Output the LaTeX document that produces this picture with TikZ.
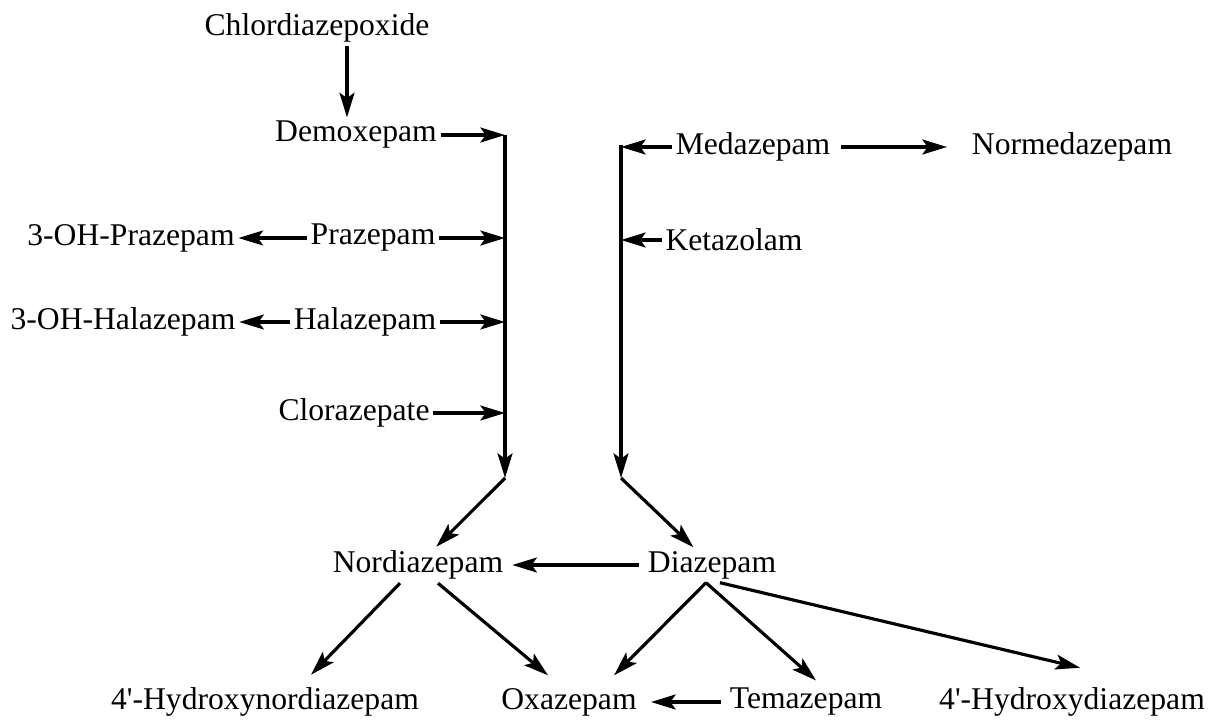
\documentclass[tikz,border=0pt]{standalone}
\usepackage{fontspec}
\setmainfont{Liberation Serif}
\usetikzlibrary{arrows.meta,calc}
\begin{document}
\begin{tikzpicture}[x=0.02cm,y=-0.02cm,
    drug/.style={inner sep=2pt, font=\fontsize{18}{20}\selectfont},
    arr/.style={line width=1.8pt, -{Stealth[length=14pt,width=8.5pt,inset=3pt]}}]
    \useasboundingbox (0,0) rectangle (1212,726);
    % Drugs, upper part
    \node[drug] (chlor)  at (317,28)  {Chlordiazepoxide};
    \node[drug] (demox)  at (356,135) {Demoxepam};
    \node[drug] (praz)   at (373,238) {Prazepam};
    \node[drug] (ohpraz) at (131,238) {3-OH-Prazepam};
    \node[drug] (hala)   at (365,322) {Halazepam};
    \node[drug] (ohhala) at (123,322) {3-OH-Halazepam};
    \node[drug] (cloraz) at (354,413) {Clorazepate};
    \node[drug] (medaz)  at (753,147) {Medazepam};
    \node[drug] (normed) at (1072,147) {Normedazepam};
    \node[drug] (ketaz)  at (734,240) {Ketazolam};
    % Drugs, lower part
    \node[drug] (nordiaz)  at (418,565) {Nordiazepam};
    \node[drug] (diaz)     at (712,565) {Diazepam};
    \node[drug] (hnordiaz) at (265,702) {4\textquotesingle-Hydroxynordiazepam};
    \node[drug] (oxaz)     at (569,702) {Oxazepam};
    \node[drug] (temaz)    at (806,702) {Temazepam};
    \node[drug] (hdiaz)    at (1072,702) {4\textquotesingle-Hydroxydiazepam};
    % The two collecting lines
    \coordinate (cx)   at (347,0);
    \coordinate (ltop) at (505,135);
    \coordinate (lbot) at (505,478);
    \coordinate (rtop) at (621,145);
    \coordinate (rbot) at (621,478);
    \draw[arr] (chlor.south -| cx) -- (demox.north -| cx);
    \draw[arr] (ltop) -- (lbot);
    \draw[arr] (rtop) -- (rbot);
    \draw[arr] (lbot) -- (nordiaz);
    \draw[arr] (rbot) -- (diaz);
    % Into the left line
    \draw[arr] (demox.east) -- (demox.east -| ltop);
    \draw[arr] (praz.east) -- (praz.east -| ltop);
    \draw[arr] (hala.east) -- (hala.east -| ltop);
    \draw[arr] (cloraz.east) -- (cloraz.east -| ltop);
    \draw[arr] (praz.west) -- (ohpraz.east);
    \draw[arr] (hala.west) -- (ohhala.east);
    % Into the right line
    \draw[arr] (medaz.west) -- (medaz.west -| rtop);
    \draw[arr] (ketaz.west) -- (ketaz.west -| rtop);
    \draw[arr, shorten <=4pt, shorten >=12pt] (medaz.east) -- (normed.west);
    % Lower part
    \draw[arr, shorten <=3pt, shorten >=3pt] (diaz.west) -- (nordiaz.east);
    \draw[arr] ($(nordiaz.south)+(-18,0)$) -- ($(hnordiaz.north)+(46,-9)$);
    \draw[arr] ($(nordiaz.south)+(20,0)$) -- ($(oxaz.north)+(-21,-9)$);
    \draw[arr] ($(diaz.south)+(-6,0)$) -- ($(oxaz.north)+(45,-9)$);
    \draw[arr] ($(diaz.south)+(-6,0)$) -- ($(temaz.north)+(10,-4)$);
    \draw[arr] ($(diaz.south)+(8,0)$) -- ($(hdiaz.north)+(8,-16)$);
    \draw[arr, shorten <=3pt, shorten >=6pt] (temaz.west) -- (oxaz.east);
\end{tikzpicture}
\end{document}
